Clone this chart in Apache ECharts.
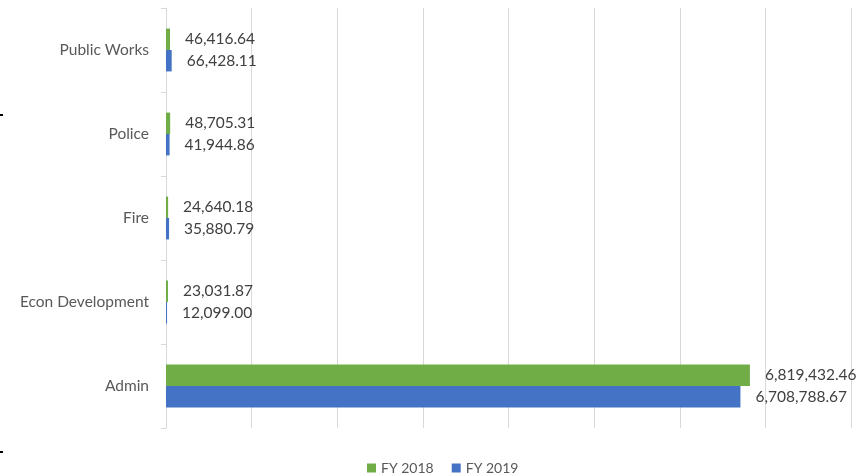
<!DOCTYPE html>
<html>
<head>
<meta charset="utf-8">
<script src="https://cdn.jsdelivr.net/npm/echarts@6/dist/echarts.min.js"></script>
<style>
  html, body { margin: 0; padding: 0; background: #fff; }
  #chart { width: 865px; height: 476px; }
</style>
</head>
<body>
<div id="chart"></div>
<script>
// Departments, listed bottom to top
var departments = ['Admin', 'Econ Development', 'Fire', 'Police', 'Public Works'];
var fy2018 = [6819432.46, 23031.87, 24640.18, 48705.31, 46416.64];
var fy2019 = [6708788.67, 12099.00, 35880.79, 41944.86, 66428.11];
var seriesNames = ['FY 2018', 'FY 2019'];

var FONT = 'Lato, "Open Sans", sans-serif';

function money(v) {
  return v.toLocaleString('en-US', { minimumFractionDigits: 2, maximumFractionDigits: 2 });
}

var labelStyle = {
  show: true,
  position: 'right',
  distance: 15,
  fontFamily: FONT,
  fontSize: 15.5,
  color: '#404040',
  formatter: function (p) { return money(p.value); }
};

var chart = echarts.init(document.getElementById('chart'));
chart.setOption({
  animation: false,
  grid: { left: 166, right: 14, top: 8, bottom: 48 },
  legend: {
    data: seriesNames,
    top: 456,
    left: 362,
    itemWidth: 9,
    itemHeight: 9,
    itemGap: 18,
    icon: 'rect',
    textStyle: { fontFamily: FONT, fontSize: 14, color: '#595959' }
  },
  xAxis: {
    type: 'value',
    min: 0,
    max: 8000000,
    interval: 1000000,
    axisLabel: { show: false },
    axisLine: { show: false },
    axisTick: { show: false },
    splitLine: { lineStyle: { color: '#d9d9d9', width: 1 } }
  },
  yAxis: {
    type: 'category',
    data: departments,
    axisLine: { lineStyle: { color: '#d9d9d9' } },
    axisTick: { show: true, length: 5, lineStyle: { color: '#d9d9d9' } },
    axisLabel: { fontFamily: FONT, fontSize: 15.5, color: '#595959', margin: 17 }
  },
  series: [
    {
      name: seriesNames[0],
      type: 'bar',
      data: fy2018,
      barGap: '0%',
      barCategoryGap: '49%',
      itemStyle: { color: '#70AD47' },
      label: labelStyle
    },
    {
      name: seriesNames[1],
      type: 'bar',
      data: fy2019,
      barGap: '0%',
      barCategoryGap: '49%',
      itemStyle: { color: '#4472C4' },
      label: labelStyle
    }
  ],
  graphic: [
    { type: 'rect', shape: { x: 0, y: 114, width: 3, height: 2 }, style: { fill: '#000' } },
    { type: 'rect', shape: { x: 0, y: 451, width: 3, height: 2 }, style: { fill: '#000' } }
  ]
});
</script>
</body>
</html>
